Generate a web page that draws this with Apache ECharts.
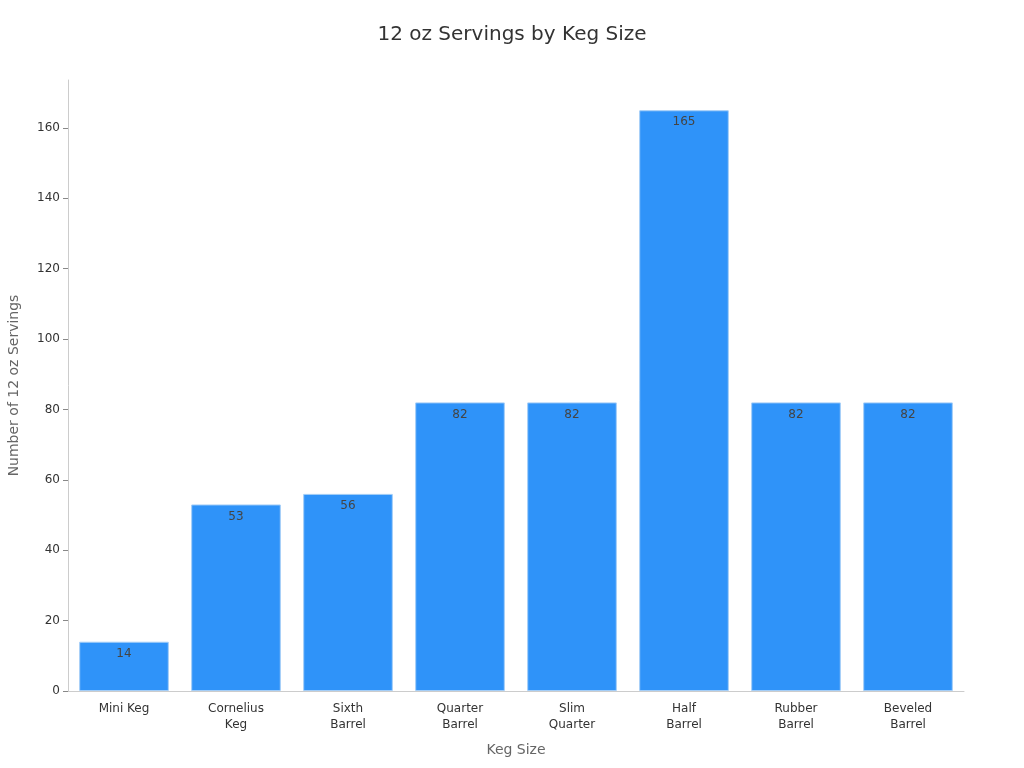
<!DOCTYPE html>
<html><head><meta charset="utf-8">
<script src="https://cdn.jsdelivr.net/npm/echarts@6/dist/echarts.min.js"></script>
<style>html,body{margin:0;padding:0;background:#fff}#c{width:1024px;height:768px}</style>
</head><body><div id="c"></div>
<script>
var categories = ['Mini Keg','Cornelius\nKeg','Sixth\nBarrel','Quarter\nBarrel','Slim\nQuarter','Half\nBarrel','Rubber\nBarrel','Beveled\nBarrel'];
var servings = [14, 53, 56, 82, 82, 165, 82, 82];
var yTicks = [0, 20, 40, 60, 80, 100, 120, 140, 160];

var chart = echarts.init(document.getElementById('c'));
var font = 'DejaVu Sans';
chart.setOption({
  textStyle: {fontFamily: font},
  title: {text: '12 oz Servings by Keg Size', left: 'center', top: 20,
    textStyle: {fontFamily: font, fontSize: 20, fontWeight: 'normal', color: '#333'}},
  grid: {left: 68, right: 60, top: 80, bottom: 77, containLabel: false, outerBoundsMode: 'none'},
  xAxis: {
    type: 'category', data: categories,
    name: 'Keg Size', nameLocation: 'middle', nameGap: 52,
    nameTextStyle: {fontFamily: font, fontSize: 14, color: '#666'},
    axisLine: {lineStyle: {color: '#ccc'}},
    axisTick: {alignWithLabel: true, lineStyle: {color: '#888'}},
    axisLabel: {fontFamily: font, fontSize: 12, color: '#333', interval: 0, lineHeight: 16, margin: 10}
  },
  yAxis: {
    type: 'value', min: 0, max: 173.6,
    name: 'Number of 12 oz Servings', nameLocation: 'middle', nameGap: 47,
    nameTextStyle: {fontFamily: font, fontSize: 14, color: '#666'},
    axisLine: {show: true, lineStyle: {color: '#ccc'}},
    axisTick: {show: true, customValues: yTicks, lineStyle: {color: '#888'}},
    axisLabel: {fontFamily: font, fontSize: 12, color: '#333', customValues: yTicks},
    splitLine: {show: false}
  },
  series: [{
    type: 'bar', data: servings, barCategoryGap: '20%',
    itemStyle: {color: '#2f93f9', borderColor: '#a3cdf7', borderWidth: 1},
    label: {show: true, position: 'insideTop', distance: 6, fontFamily: font, fontSize: 12, color: '#444'}
  }]
});
</script></body></html>
